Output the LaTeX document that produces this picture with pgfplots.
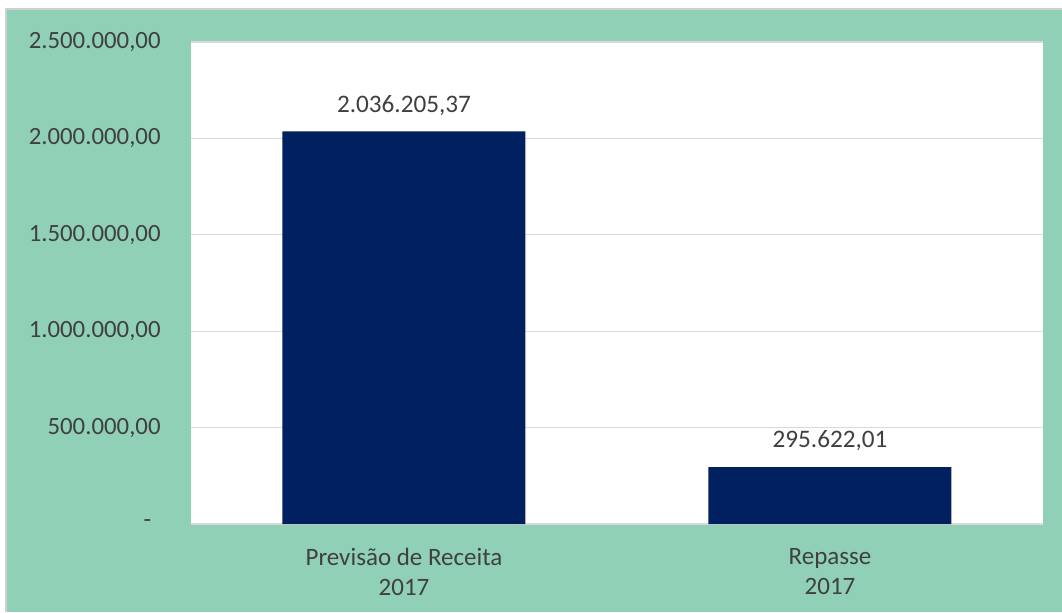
\documentclass[border=0pt]{standalone}
\usepackage{pgfplots}
\pgfplotsset{compat=1.18}
\usepackage{fontspec}
\setmainfont{Carlito}
\definecolor{bg}{RGB}{143,208,183}
\definecolor{barc}{RGB}{0,32,96}
\definecolor{txt}{RGB}{64,64,64}
\definecolor{gridc}{RGB}{217,217,217}
\definecolor{framec}{RGB}{208,208,208}
\begin{document}
\begin{tikzpicture}[x=0.5pt,y=0.5pt]
\useasboundingbox (0,0) rectangle (1062,612);
\fill[white] (0,0) rectangle (1062,612);
\fill[bg] (7,0) rectangle (1062,602);
\draw[framec, line width=0.75pt] (6.2,0) -- (6.2,602.8) -- (1062,602.8);
\begin{axis}[
  at={(95.5pt,44pt)}, anchor=south west,
  width=426pt, height=241pt, scale only axis,
  xmin=-0.5, xmax=1.5, ymin=0, ymax=2500000,
  axis background/.style={fill=white},
  axis line style={draw=none},
  ymajorgrids, grid style={gridc, line width=0.6pt},
  major tick length=0pt,
  scaled y ticks=false,
  ytick={0,500000,1000000,1500000,2000000,2500000},
  yticklabels={{\makebox[8.5pt][l]{-}},{500.000,00},{1.000.000,00},{1.500.000,00},{2.000.000,00},{2.500.000,00}},
  xtick={0,1},
  xticklabels={{Previsão de Receita\\2017},{Repasse\\2017}},
  xticklabel style={align=center, font=\fontsize{12.5}{15}\selectfont, text=txt, yshift=-8.5pt},
  yticklabel style={font=\fontsize{12.4}{14}\selectfont, text=txt, inner sep=0pt, xshift=-15pt},
  ybar, bar width=121.5pt,
  nodes near coords, point meta=explicit symbolic,
  nodes near coords style={font=\fontsize{12.6}{14}\selectfont, text=txt, anchor=center, yshift=13pt},
]
\addplot[fill=barc, draw=none] coordinates {(0,2036205.37) [{2.036.205,37}] (1,295622.01) [{295.622,01}]};
\end{axis}
\end{tikzpicture}
\end{document}
